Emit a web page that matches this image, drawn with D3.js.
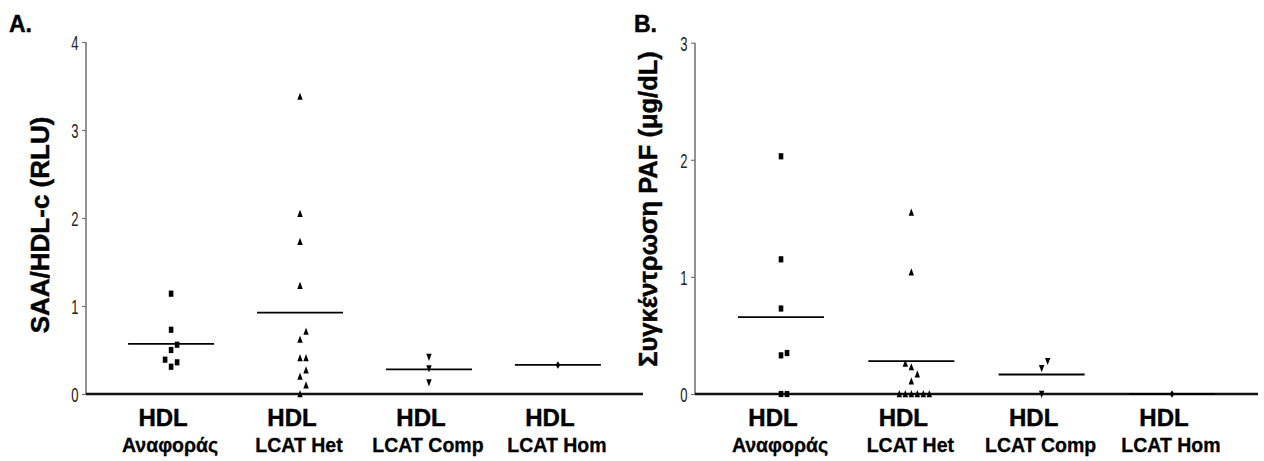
<!DOCTYPE html>
<html>
<head>
<meta charset="utf-8">
<script src="https://cdn.jsdelivr.net/npm/d3@7"></script>
<style>
  html, body { margin: 0; padding: 0; background: #fff; }
  svg { display: block; }
</style>
</head>
<body>
<svg id="chart" width="1264" height="461"></svg>
<script>
// ---------------- DATA ----------------
const categoryTop = ["HDL", "HDL", "HDL", "HDL"];
const categoryBottom = ["Αναφοράς", "LCAT Het", "LCAT Comp", "LCAT Hom"];
const categoryKeys = ["ref", "het", "comp", "hom"];
const markerShapes = ["square", "triangle", "triangleDown", "diamond"];

// Panel A: SAA/HDL-c (RLU)
const saaRef  = [0.31, 0.36, 0.39, 0.50, 0.56, 0.73, 1.14];
const saaHet  = [0, 0.10, 0.20, 0.27, 0.41, 0.41, 0.62, 0.71, 1.23, 1.73, 2.05, 3.38];
const saaComp = [0.13, 0.29, 0.42];
const saaHom  = [0.33];
const saaTicks = [0, 1, 2, 3, 4];

// Panel B: PAF concentration (μg/dL)
const pafRef  = [0, 0, 0.33, 0.35, 0.73, 1.15, 2.03];
const pafHet  = [0, 0, 0, 0, 0, 0, 0.11, 0.17, 0.23, 0.26, 1.04, 1.55];
const pafComp = [0, 0.22, 0.28];
const pafHom  = [0];
const pafTicks = [0, 1, 2, 3];

// ---------------- DRAWING ----------------
const svg = d3.select("#chart");
const FONT = "'Liberation Sans', Arial, Helvetica, sans-serif";
const TICK_SQUEEZE = 0.62;

function markerPath(shape) {
  switch (shape) {
    case "square": return "M-2.3,-3.1 L2.3,-3.1 L2.3,3.1 L-2.3,3.1 Z";
    case "triangle": return "M0,-3.9 L2.7,3.3 L-2.7,3.3 Z";
    case "triangleDown": return "M-2.7,-3.3 L2.7,-3.3 L0,3.9 Z";
    case "diamond": return "M0,-3.7 L2.3,0 L0,3.7 L-2.3,0 Z";
  }
}

// simple beeswarm spread to avoid overlapping markers
function spread(values, y) {
  const order = values.map((v, i) => i).sort((a, b) => values[a] - values[b]);
  const placed = [];
  const res = new Array(values.length);
  const cand = [0, 6, -6, 12, -12, 18, -18, 24, -24];
  order.forEach(i => {
    const py = y(values[i]);
    for (const dx of cand) {
      const hit = placed.some(p => Math.abs(p.dx - dx) < 6 && Math.abs(p.y - py) < 11);
      if (!hit) { placed.push({dx, y: py}); res[i] = dx; break; }
    }
  });
  return res;
}

function boldText(sel, size) {
  return sel.attr("font-family", FONT).attr("font-weight", "bold")
    .attr("font-size", size).attr("fill", "#000")
    .attr("stroke", "#000").attr("stroke-width", 0.45);
}

function panel(opts) {
  const { x0, x1, yTop, yBot, domainMax, ticks, series, title, titleX, titleY, titleSize, letter, letterX } = opts;
  const g = svg.append("g");
  const x = d3.scalePoint().domain(categoryKeys).range([x0, x1]).padding(0.66);
  const y = d3.scaleLinear().domain([0, domainMax]).range([yBot, yTop]);

  // y axis
  const yAxis = g.append("g").attr("transform", `translate(${x0},0)`)
    .call(d3.axisLeft(y).tickValues(ticks).tickFormat(d3.format("d")).tickSize(4).tickPadding(3));
  yAxis.select(".domain").attr("stroke", "#777").attr("stroke-width", 1.6).attr("d", `M0,${yTop}V${yBot}`);
  yAxis.selectAll(".tick line").attr("stroke", "#777").attr("stroke-width", 1.2);
  yAxis.selectAll(".tick text")
    .attr("font-family", FONT)
    .attr("font-size", 21).attr("fill", "#222").attr("dy", "0.36em")
    .attr("x", -7.5 / TICK_SQUEEZE)
    .attr("transform", `scale(${TICK_SQUEEZE},1)`);

  // x axis
  const xAxis = g.append("g").attr("transform", `translate(0,${yBot})`)
    .call(d3.axisBottom(x).tickSize(0).tickFormat(""));
  xAxis.select(".domain").attr("stroke", "#111").attr("stroke-width", 2.6).attr("d", `M${x0},0H${x1}`);

  // category labels
  categoryKeys.forEach((k, i) => {
    boldText(g.append("text").attr("x", x(k) - 8).attr("y", yBot + 32)
      .attr("text-anchor", "middle"), 24).text(categoryTop[i]);
    boldText(g.append("text").attr("x", x(k) - 1).attr("y", yBot + 58)
      .attr("text-anchor", "middle"), 19.5).attr("stroke-width", 0.3).text(categoryBottom[i]);
  });

  // data points and mean lines
  series.forEach((vals, i) => {
    const k = categoryKeys[i];
    const cx = x(k);
    const m = d3.mean(vals);
    g.append("line").attr("x1", cx - 43).attr("x2", cx + 43)
      .attr("y1", y(m)).attr("y2", y(m)).attr("stroke", "#000").attr("stroke-width", 1.8);
    const offs = spread(vals, y);
    g.selectAll(null).data(vals).enter().append("path")
      .attr("d", markerPath(markerShapes[i]))
      .attr("transform", (d, j) => `translate(${cx + offs[j]},${y(d)})`)
      .attr("fill", "#000");
  });

  // axis title
  boldText(g.append("text").attr("transform", `translate(${titleX},${titleY}) rotate(-90)`)
    .attr("text-anchor", "middle").attr("dy", "0.35em"), titleSize).text(title);

  // panel letter
  boldText(g.append("text").attr("x", letterX).attr("y", 32), 23).text(letter);
}

panel({
  x0: 86, x1: 643, yTop: 42, yBot: 394, domainMax: 4, ticks: saaTicks,
  series: [saaRef, saaHet, saaComp, saaHom],
  title: "SAA/HDL-c (RLU)", titleX: 40, titleY: 225, titleSize: 26,
  letter: "A.", letterX: 9
});

panel({
  x0: 695, x1: 1258, yTop: 42.7, yBot: 394, domainMax: 3, ticks: pafTicks,
  series: [pafRef, pafHet, pafComp, pafHom],
  title: "Συγκέντρωση PAF (μg/dL)", titleX: 648, titleY: 209, titleSize: 25.5,
  letter: "B.", letterX: 634
});
</script>
</body>
</html>
